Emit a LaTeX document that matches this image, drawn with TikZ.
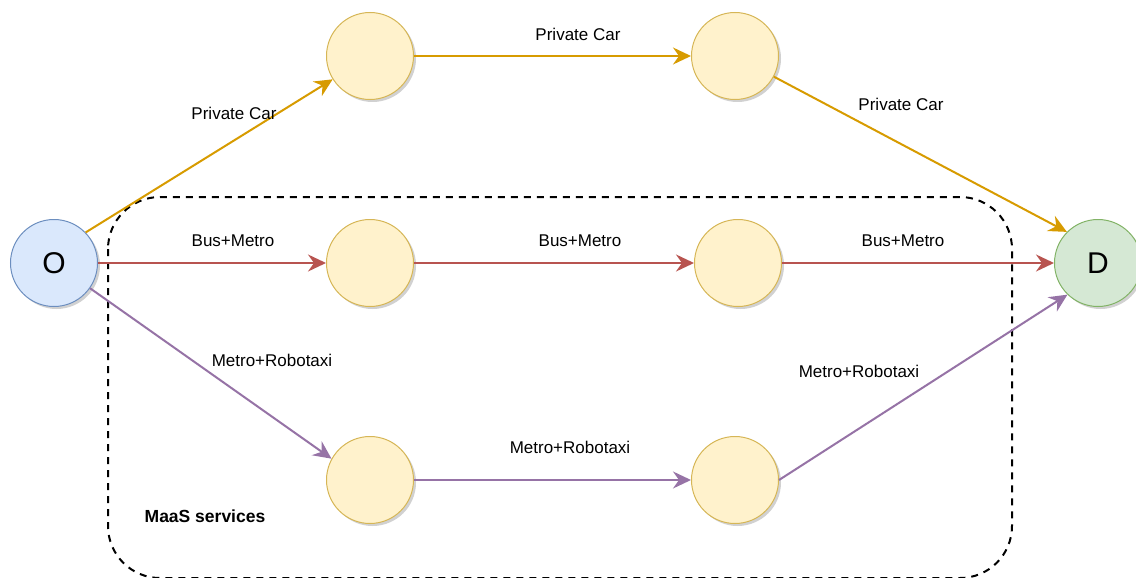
\documentclass[tikz,border=0pt]{standalone}
\usepackage{fontspec}
\setmainfont{Liberation Sans}
\usetikzlibrary{arrows.meta,shadows}
\definecolor{carline}{HTML}{D79B00}
\definecolor{busline}{HTML}{B85450}
\definecolor{taxiline}{HTML}{9673A6}
\definecolor{stopfill}{HTML}{FFF2CC}
\definecolor{stopdraw}{HTML}{D6B656}
\definecolor{ofill}{HTML}{DAE8FC}
\definecolor{odraw}{HTML}{6C8EBF}
\definecolor{dfill}{HTML}{D5E8D4}
\definecolor{ddraw}{HTML}{82B366}
\tikzset{
  stop/.style={circle, minimum size=87pt, inner sep=0pt, line width=1pt,
    fill=stopfill, draw=stopdraw,
    drop shadow={shadow xshift=2.5pt, shadow yshift=-2.5pt, fill=black!30, opacity=0.6}},
  endpt/.style={stop, font=\fontsize{30}{36}\selectfont},
  route/.style={line width=2pt, -{Stealth[length=18pt,width=17pt,inset=6pt]}},
  lbl/.style={font=\fontsize{17}{20}\selectfont, inner sep=0pt},
  group/.style={draw=black, line width=2pt, dash pattern=on 7pt off 6pt, rounded corners=52pt}
}
\begin{document}
\begin{tikzpicture}[x=1pt,y=-1pt]
\useasboundingbox (0,0) rectangle (1136,578);
% MaaS grouping
\draw[group] (108,197) rectangle (1012,578);
\node[lbl, font=\fontsize{17.5}{20}\selectfont\bfseries] (maas) at (205,516) {MaaS services};
% nodes
\node[endpt, fill=ofill, draw=odraw] (O) at (54,263) {O};
\node[endpt, fill=dfill, draw=ddraw] (D) at (1098,263) {D};
\node[stop] (t1) at (370,56) {};
\node[stop] (t2) at (735,56) {};
\node[stop] (m1) at (370,263) {};
\node[stop] (m2) at (738,263) {};
\node[stop] (b1) at (370,480) {};
\node[stop] (b2) at (735,480) {};
% private car
\draw[route, carline] (O.44) -- (t1.212);
\draw[route, carline] (t1) -- (t2);
\draw[route, carline] (t2.332) -- (D.135);
% bus + metro
\draw[route, busline] (O) -- (m1);
\draw[route, busline] (m1) -- (m2);
\draw[route, busline] (m2) -- (D);
% metro + robotaxi
\draw[route, taxiline] (O.325) -- (b1.151);
\draw[route, taxiline] (b1) -- (b2);
\draw[route, taxiline] (b2.0) -- (D.226);
% labels
\node[lbl] (l1) at (234,113) {Private Car};
\node[lbl] (l2) at (578,34) {Private Car};
\node[lbl] (l3) at (901,104) {Private Car};
\node[lbl] (l4) at (233,241) {Bus+Metro};
\node[lbl] (l5) at (580,241) {Bus+Metro};
\node[lbl] (l6) at (903,241) {Bus+Metro};
\node[lbl] (l7) at (272,360) {Metro+Robotaxi};
\node[lbl] (l8) at (570,447) {Metro+Robotaxi};
\node[lbl] (l9) at (859,371) {Metro+Robotaxi};
\end{tikzpicture}
\end{document}
